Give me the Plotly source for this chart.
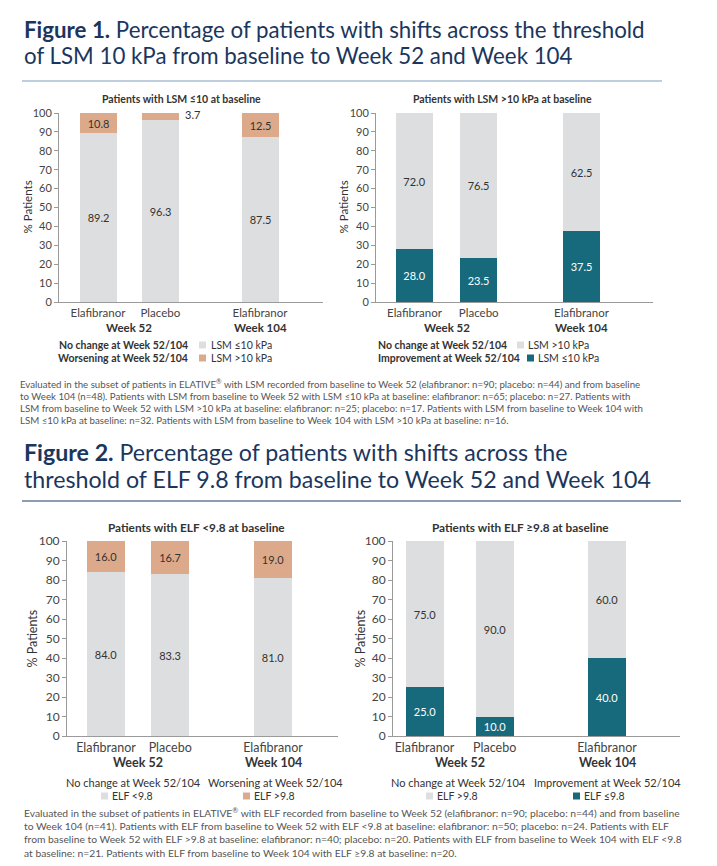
import plotly.graph_objects as go

W, H = 717, 866
FONT = "Lato"
NAVY = "#1b365d"
TXT = "#333333"
GREY = "#dddedf"
ORANGE = "#dcaa8a"
TEAL = "#176a7b"
AXIS = "#9a9a9a"

# data
GROUPS = ["Elafibranor", "Placebo", "Elafibranor"]
WEEKS = ["Week 52", "Week 104"]
X_POS = [0, 1, 2.6]

LSM_LOW_NOCHANGE = [89.2, 96.3, 87.5]
LSM_LOW_WORSEN = [10.8, 3.7, 12.5]
LSM_HIGH_IMPROVE = [28.0, 23.5, 37.5]
LSM_HIGH_NOCHANGE = [72.0, 76.5, 62.5]
ELF_LOW_NOCHANGE = [84.0, 83.3, 81.0]
ELF_LOW_WORSEN = [16.0, 16.7, 19.0]
ELF_HIGH_IMPROVE = [25.0, 10.0, 40.0]
ELF_HIGH_NOCHANGE = [75.0, 90.0, 60.0]

FOOT1 = [
    "Evaluated in the subset of patients in ELATIVE<sup>®</sup> with LSM recorded from baseline to Week 52 (elafibranor: n=90; placebo: n=44) and from baseline",
    "to Week 104 (n=48). Patients with LSM from baseline to Week 52 with LSM ≤10 kPa at baseline: elafibranor: n=65; placebo: n=27. Patients with",
    "LSM from baseline to Week 52 with LSM >10 kPa at baseline: elafibranor: n=25; placebo: n=17. Patients with LSM from baseline to Week 104 with",
    "LSM ≤10 kPa at baseline: n=32. Patients with LSM from baseline to Week 104 with LSM >10 kPa at baseline: n=16.",
]
FOOT2 = [
    "Evaluated in the subset of patients in ELATIVE<sup>®</sup> with ELF recorded from baseline to Week 52 (elafibranor: n=90; placebo: n=44) and from baseline",
    "to Week 104 (n=41). Patients with ELF from baseline to Week 52 with ELF <9.8 at baseline: elafibranor: n=50; placebo: n=24. Patients with ELF",
    "from baseline to Week 52 with ELF >9.8 at baseline: elafibranor: n=40; placebo: n=20. Patients with ELF from baseline to Week 104 with ELF <9.8",
    "at baseline: n=21. Patients with ELF from baseline to Week 104 with ELF ≥9.8 at baseline: n=20.",
]


def px(x):
    return x / W


def py(y):
    return 1 - y / H


# panel layout in pixels: axis left/right, top/bottom, first and third bar centre,
# y title x, subtitle centre x
panels = [
    dict(title="Patients with LSM ≤10 at baseline", ax=(59, 323), ay=(113, 302), c=(98, 260), bw=37, fs=11,
         tx=27, sx=181, sfs=10.5, series=[(LSM_LOW_NOCHANGE, GREY, TXT), (LSM_LOW_WORSEN, ORANGE, TXT)]),
    dict(title="Patients with LSM >10 kPa at baseline", ax=(376, 653), ay=(113, 302), c=(414.5, 581.5), bw=37, fs=11,
         tx=343, sx=502, sfs=10.5, series=[(LSM_HIGH_IMPROVE, TEAL, "white"), (LSM_HIGH_NOCHANGE, GREY, TXT)]),
    dict(title="Patients with ELF <9.8 at baseline", ax=(67, 338), ay=(541, 736), c=(106, 273), bw=38, fs=12,
         tx=32, sx=196, sfs=11.8, series=[(ELF_LOW_NOCHANGE, GREY, TXT), (ELF_LOW_WORSEN, ORANGE, TXT)]),
    dict(title="Patients with ELF ≥9.8 at baseline", ax=(393, 680), ay=(541, 736), c=(424.5, 607), bw=38, fs=12,
         tx=360, sx=520, sfs=11.8, series=[(ELF_HIGH_IMPROVE, TEAL, "white"), (ELF_HIGH_NOCHANGE, GREY, TXT)]),
]

fig = go.Figure()
annotations = []
shapes = []

for i, p in enumerate(panels):
    n = "" if i == 0 else str(i + 1)
    unit = (p["c"][1] - p["c"][0]) / X_POS[2]
    xr = [(p["ax"][0] - p["c"][0]) / unit, (p["ax"][1] - p["c"][0]) / unit]
    base = [0, 0, 0]
    for vals, col, tcol in p["series"]:
        texts = [f"{v:.1f}" if v >= 6 else "" for v in vals]
        fig.add_trace(go.Bar(
            x=X_POS, y=vals, width=p["bw"] / unit, marker=dict(color=col, line=dict(width=0)),
            text=texts, textposition="inside", insidetextanchor="middle", textangle=0,
            constraintext="none", textfont=dict(family=FONT, size=11, color=tcol),
            xaxis="x" + n, yaxis="y" + n, showlegend=False, hoverinfo="skip"))
        for k, v in enumerate(vals):
            if v < 6:
                annotations.append(dict(x=X_POS[k] + p["bw"] / unit / 2, y=base[k] + v / 2,
                                        xref="x" + n, yref="y" + n, text=f"{v:.1f}", showarrow=False,
                                        xanchor="left", yanchor="middle", xshift=4, yshift=2,
                                        font=dict(family=FONT, size=11, color=TXT)))
        base = [b + v for b, v in zip(base, vals)]

    fig.update_layout(**{
        "xaxis" + n: dict(domain=[px(p["ax"][0]), px(p["ax"][1])], anchor="y" + n, range=xr,
                          tickvals=X_POS, ticktext=GROUPS, showline=True, linecolor=AXIS,
                          ticks="", showgrid=False, zeroline=False, automargin=False,
                          tickfont=dict(family=FONT, size=p["fs"] + 0.5, color="#444")),
        "yaxis" + n: dict(domain=[py(p["ay"][1]), py(p["ay"][0])], anchor="x" + n, range=[0, 100],
                          dtick=10, ticks="outside", ticklen=4, tickcolor=AXIS, showline=True,
                          linecolor=AXIS, showgrid=False, zeroline=False, automargin=False,
                          tickfont=dict(family=FONT, size=p["fs"], color="#444")),
    })
    # y title
    annotations.append(dict(x=px(p["tx"]), y=py((p["ay"][0] + p["ay"][1]) / 2), xref="paper", yref="paper",
                            text="% Patients", textangle=-90, showarrow=False, xanchor="center",
                            yanchor="middle", font=dict(family=FONT, size=p["fs"] + 0.5, color=TXT)))
    # panel subtitle
    annotations.append(dict(x=px(p["sx"]), y=py(p["ay"][0] - 14),
                            xref="paper", yref="paper", text=f"<b>{p['title']}</b>", showarrow=False,
                            xanchor="center", yanchor="middle",
                            font=dict(family=FONT, size=p["sfs"], color=TXT)))
    # week labels
    wy = p["ay"][1] + (25 if i < 2 else 26)
    for wx, wk in zip([(X_POS[0] + X_POS[1]) / 2, X_POS[2]], WEEKS):
        annotations.append(dict(x=wx, y=py(wy), xref="x" + n, yref="paper", text=f"<b>{wk}</b>",
                                showarrow=False, xanchor="center", yanchor="middle",
                                font=dict(family=FONT, size=p["fs"] + 0.5, color=TXT)))


def label(x, y, text, size, anchor="left", bold=False, color=TXT):
    annotations.append(dict(x=px(x), y=py(y), xref="paper", yref="paper",
                            text=f"<b>{text}</b>" if bold else text, showarrow=False,
                            xanchor=anchor, yanchor="middle", font=dict(family=FONT, size=size, color=color)))


def swatch(x, y, col, s=7):
    shapes.append(dict(type="rect", xref="paper", yref="paper", x0=px(x), x1=px(x + s),
                       y0=py(y + s / 2), y1=py(y - s / 2), fillcolor=col, line=dict(width=0)))


# figure 1 legends
label(190, 345, "No change at Week 52/104", 10.5, "right", True)
swatch(199, 345, GREY)
label(209, 345, "LSM ≤10 kPa", 10.5)
label(190, 358, "Worsening at Week 52/104", 10.5, "right", True)
swatch(199, 358, ORANGE)
label(209, 358, "LSM >10 kPa", 10.5)

label(376, 345, "No change at Week 52/104", 10.5, "left", True)
swatch(517, 345, GREY)
label(526, 345, "LSM >10 kPa", 10.5)
label(376, 358, "Improvement at Week 52/104", 10.5, "left", True)
swatch(527, 358, TEAL)
label(536, 358, "LSM ≤10 kPa", 10.5)

# figure 2 legends
label(133, 782, "No change at Week 52/104", 11, "center")
swatch(101, 796, GREY)
label(110, 796, "ELF <9.8", 10.5)
label(275, 782, "Worsening at Week 52/104", 11, "center")
swatch(243, 796, ORANGE)
label(252, 796, "ELF >9.8", 10.5)

label(458, 782, "No change at Week 52/104", 11, "center")
swatch(426, 796, GREY)
label(435, 796, "ELF >9.8", 10.5)
label(607, 782, "Improvement at Week 52/104", 11, "center")
swatch(573, 796, TEAL)
label(582, 796, "ELF ≤9.8", 10.5)

# titles
label(22, 30, "<b>Figure 1.</b> Percentage of patients with shifts across the threshold", 22.3, color=NAVY)
label(22, 56, "of LSM 10 kPa from baseline to Week 52 and Week 104", 22.3, color=NAVY)
label(22, 452, "<b>Figure 2.</b> Percentage of patients with shifts across the", 23.2, color=NAVY)
label(22, 479, "threshold of ELF 9.8 from baseline to Week 52 and Week 104", 23.2, color=NAVY)
shapes.append(dict(type="line", xref="paper", yref="paper", x0=px(22), x1=px(662), y0=py(81), y1=py(81),
                   line=dict(color="#a9bdd6", width=1.5)))
shapes.append(dict(type="line", xref="paper", yref="paper", x0=px(22), x1=px(681), y0=py(501), y1=py(501),
                   line=dict(color="#1d3b64", width=1.2)))

# footnotes
for j, line in enumerate(FOOT1):
    label(18, 384 + j * 12, line, 9.7, color="#555555")
for j, line in enumerate(FOOT2):
    label(22, 812 + j * 13.7, line, 10.3, color="#555555")

fig.update_layout(
    width=W, height=H, margin=dict(l=0, r=0, t=0, b=0, autoexpand=False),
    barmode="stack", bargap=0, plot_bgcolor="white", paper_bgcolor="white",
    font=dict(family=FONT, color=TXT), annotations=annotations, shapes=shapes,
)

fig.write_html("out.html", config={"displayModeBar": False},
               post_script="document.body.style.margin='0';")
